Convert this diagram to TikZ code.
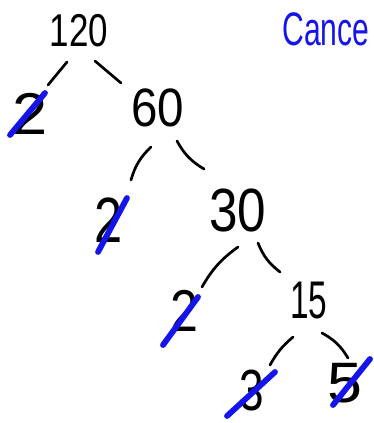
\documentclass[tikz,border=0pt]{standalone}
\usepackage{graphicx}
\usepackage{fontspec}
\setmainfont{Liberation Sans}
\definecolor{blueink}{RGB}{20,20,235}
\newcommand{\hwtext}[3]{{\fontsize{#1}{#1}\selectfont\scalebox{#2}[1]{#3}}}
\tikzset{
  num/.style={inner sep=0pt, outer sep=0pt, text=black},
  edge/.style={draw=black, line width=2.7pt, line cap=round},
  cross/.style={draw=blueink, line width=5.8pt, line cap=round},
}
\begin{document}
\begin{tikzpicture}[x=1pt,y=-1pt]
\useasboundingbox[fill=white] (0,0) rectangle (373,423);
% numbers
\node[num] (n120) at (79,31) {\hwtext{46}{0.76}{120}};
\node[num] (n2a) at (30,114) {\hwtext{59}{1.07}{2}};
\node[num] (n60) at (158,108) {\hwtext{54}{0.88}{60}};
\node[num] (n2b) at (109,220) {\hwtext{64}{0.79}{2}};
\node[num] (n30) at (238,210) {\hwtext{61}{0.84}{30}};
\node[num] (n2c) at (184,311) {\hwtext{59}{0.85}{2}};
\node[num] (n15) at (309,301) {\hwtext{53}{0.63}{15}};
\node[num] (n3) at (252,391) {\hwtext{58}{0.76}{3}};
\node[num] (n5) at (345,383) {\hwtext{57}{1.1}{5}};
\node[num, text=blueink] (cancel) at (326,29) {\hwtext{47}{0.64}{Cance}};
% connectors
\draw[edge] ([shift={(-12,31)}]n120.center) -- ([shift={(18,-29)}]n2a.center);
\draw[edge] ([shift={(16,30)}]n120.center) -- ([shift={(-37,-25)}]n60.center);
\draw[edge] ([shift={(-7,39)}]n60.center) to[bend right=15] ([shift={(22,-40)}]n2b.center);
\draw[edge] ([shift={(19,33)}]n60.center) to[bend right=15] ([shift={(-34,-41)}]n30.center);
\draw[edge] ([shift={(0,37)}]n30.center) to[bend right=12] ([shift={(18,-24)}]n2c.center);
\draw[edge] ([shift={(20,33)}]n30.center) to[bend right=15] ([shift={(-29,-29)}]n15.center);
\draw[edge] ([shift={(-16,36)}]n15.center) to[bend right=10] ([shift={(18,-26)}]n3.center);
\draw[edge] ([shift={(13,32)}]n15.center) to[bend left=15] ([shift={(3,-25)}]n5.center);
% cancellations
\draw[cross] ([shift={(-20,21)}]n2a.center) -- ([shift={(15,-21)}]n2a.center);
\draw[cross] ([shift={(-11,32)}]n2b.center) -- ([shift={(18,-22)}]n2b.center);
\draw[cross] ([shift={(-21,34)}]n2c.center) -- ([shift={(14,-14)}]n2c.center);
\draw[cross] ([shift={(-25,25)}]n3.center) -- ([shift={(23,-19)}]n3.center);
\draw[cross] ([shift={(-12,22)}]n5.center) -- ([shift={(25,-24)}]n5.center);
\end{tikzpicture}
\end{document}
